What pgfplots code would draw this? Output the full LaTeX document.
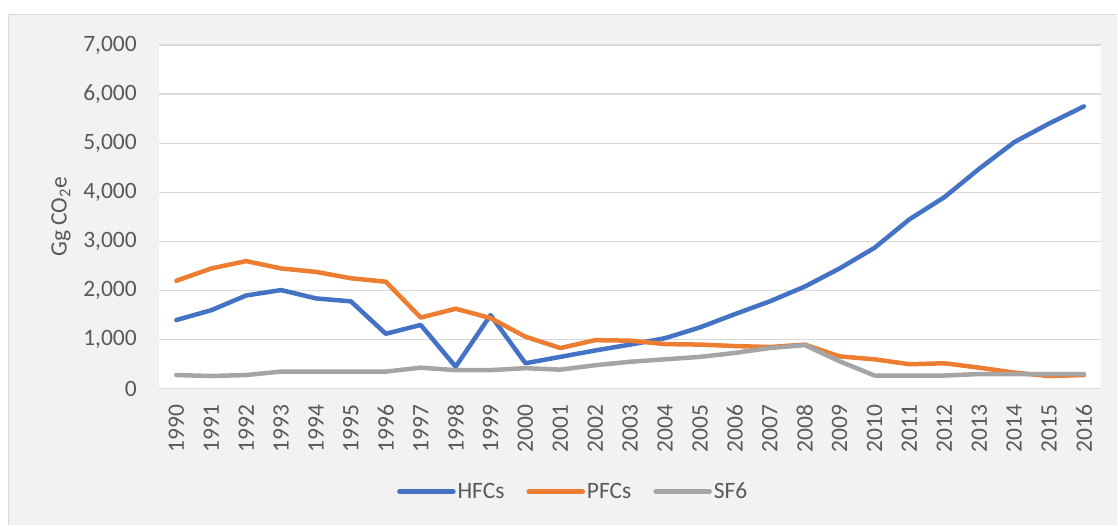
\documentclass[border=0pt]{standalone}
\usepackage{pgfplots}
\pgfplotsset{compat=1.18}
\usepackage{fontspec}
\setmainfont{Carlito}
\definecolor{cHFC}{HTML}{4472C4}
\definecolor{cPFC}{HTML}{ED7D31}
\definecolor{cSF}{HTML}{A5A5A5}
\definecolor{bgc}{HTML}{F2F2F2}
\definecolor{gridc}{HTML}{D9D9D9}
\definecolor{txt}{HTML}{595959}
\newcommand{\cf}{\fontsize{23.5bp}{28bp}\selectfont}
\begin{document}
\begin{tikzpicture}
\fill[white] (0,0) rectangle (1118bp,525bp);
\fill[bgc] (8bp,0) rectangle (1118bp,511bp);
\draw[gridc, line width=1.2bp] (8.6bp,0) -- (8.6bp,510.4bp) -- (1118bp,510.4bp);
\begin{axis}[
  at={(159bp,136bp)}, anchor=south west,
  scale only axis, width=943bp, height=344bp,
  xmin=-0.5, xmax=26.5, ymin=0, ymax=7000,
  axis background/.style={fill=white},
  axis line style={draw=none},
  major tick style={draw=none},
  ymajorgrids, grid style={gridc, line width=1.3bp},
  ytick={0,1000,...,7000},
  xtick={0,...,26},
  xticklabels={1990,1991,1992,1993,1994,1995,1996,1997,1998,1999,2000,2001,2002,2003,2004,2005,2006,2007,2008,2009,2010,2011,2012,2013,2014,2015,2016},
  /pgf/number format/assume math mode=true,
  /pgf/number format/1000 sep={,},
  scaled y ticks=false,
  tick label style={font=\cf, text=txt},
  yticklabel style={inner sep=0pt, anchor=east},
  yticklabel shift=22bp,
  xticklabel style={inner sep=0pt, rotate=90, anchor=east},
  xticklabel shift=16bp,
  ylabel={Gg CO\textsubscript{2}e},
  every axis y label/.style={at={(rel axis cs:0,0.5)}, xshift=-98bp, rotate=90, anchor=center, font=\cf, text=txt},
  clip=false,
  every axis plot/.append style={line width=4.5bp, line cap=round, line join=round},
  legend columns=3,
  legend style={at={(0.4396,-0.2994)}, anchor=center, draw=none, fill=none, font=\cf, text=txt,
    /tikz/every even column/.append style={column sep=20bp}, inner sep=0pt},
  legend cell align=left,
  legend image code/.code={\draw[#1, line width=4.5bp, line cap=round] (0bp,0bp) -- (54bp,0bp);},
]
\addplot[cHFC] coordinates {
(0,1400) (1,1600) (2,1900) (3,2010) (4,1840) (5,1780) (6,1120) (7,1300) (8,450) (9,1500)
(10,520) (11,650) (12,780) (13,900) (14,1030) (15,1250) (16,1520) (17,1780) (18,2080)
(19,2450) (20,2870) (21,3450) (22,3900) (23,4480) (24,5020) (25,5400) (26,5750)};
\addlegendentry{HFCs}
\addplot[cPFC] coordinates {
(0,2200) (1,2450) (2,2600) (3,2450) (4,2380) (5,2250) (6,2180) (7,1450) (8,1630) (9,1440)
(10,1060) (11,830) (12,990) (13,980) (14,910) (15,900) (16,870) (17,850) (18,900)
(19,660) (20,600) (21,500) (22,520) (23,430) (24,330) (25,260) (26,280)};
\addlegendentry{PFCs}
\addplot[cSF] coordinates {
(0,280) (1,260) (2,280) (3,350) (4,350) (5,350) (6,350) (7,430) (8,380) (9,380)
(10,420) (11,390) (12,480) (13,550) (14,600) (15,650) (16,730) (17,830) (18,890)
(19,560) (20,270) (21,270) (22,270) (23,300) (24,300) (25,300) (26,300)};
\addlegendentry{SF6}
\end{axis}
\end{tikzpicture}
\end{document}
